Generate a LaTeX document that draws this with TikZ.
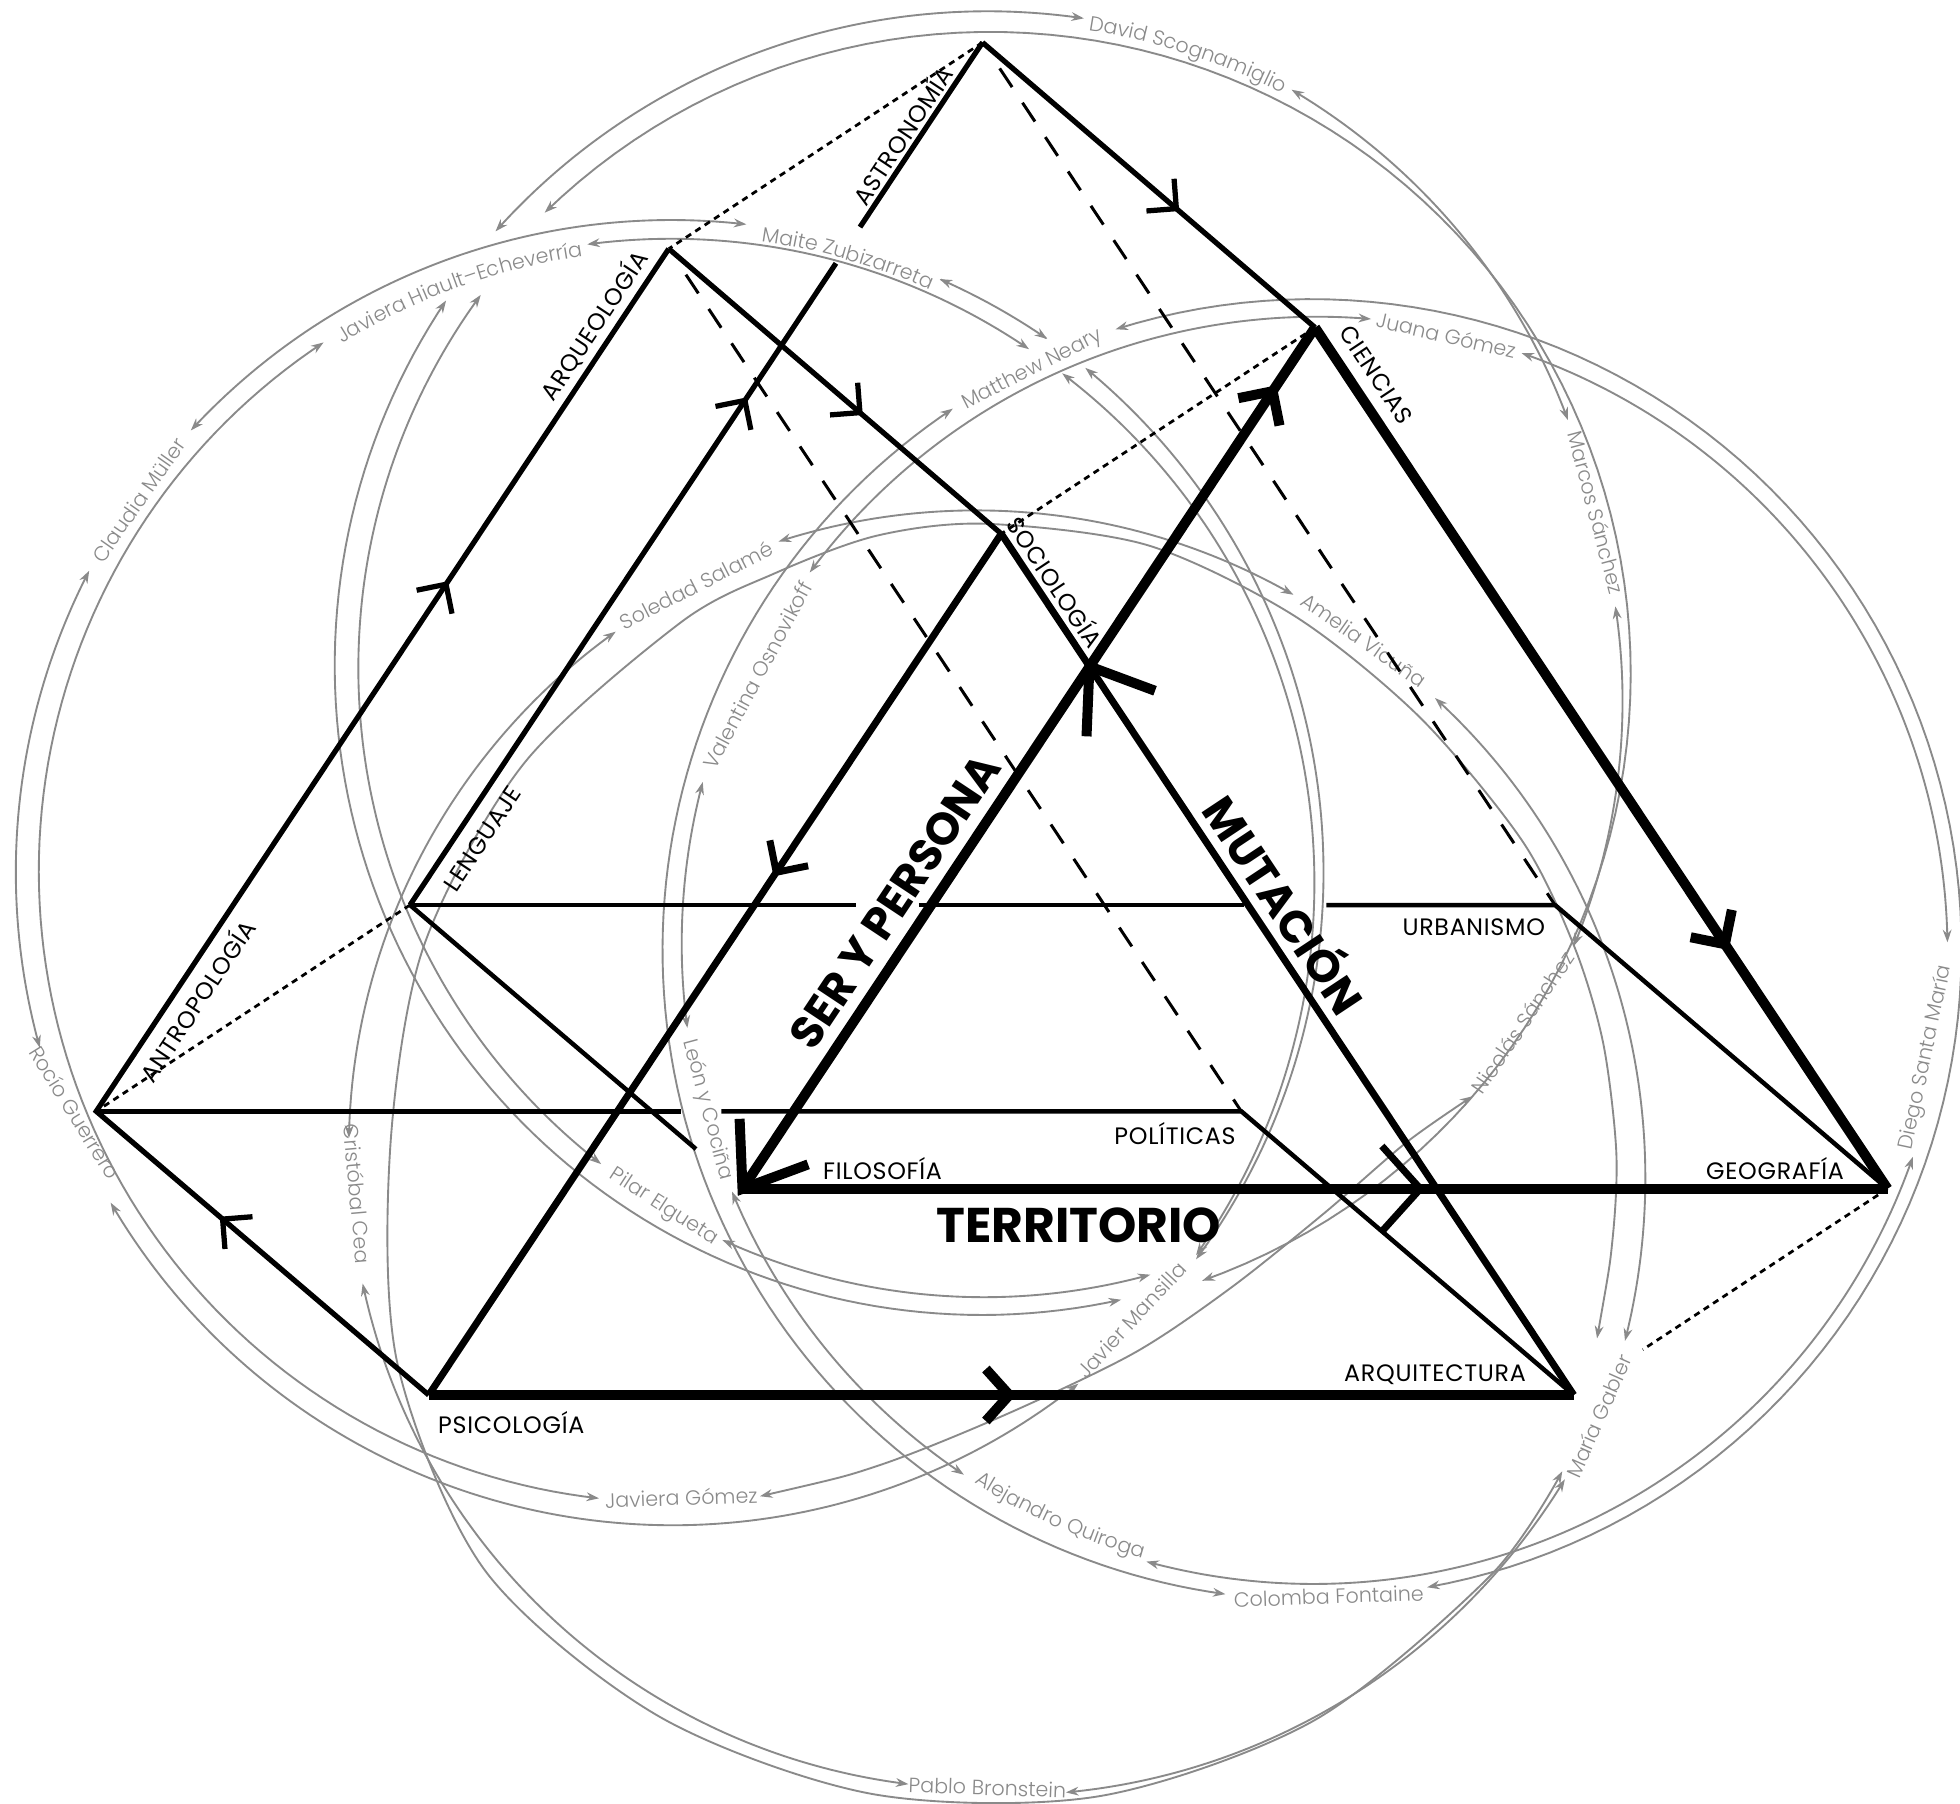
\documentclass[tikz,border=0pt]{standalone}
\usepackage{fontspec}
\setmainfont{Poppins}
\newfontfamily\nmfont{Poppins Light}
\usetikzlibrary{calc,arrows.meta,decorations.text}
\definecolor{gr}{HTML}{8A8A8A}
\tikzset{
  garc/.style={draw=gr,line width=1.5pt,>={Stealth[length=10pt,width=7pt]}},
  nm/.style={text=gr,font=\nmfont\fontsize{16.5}{16.5}\selectfont,inner sep=0pt},
  lab/.style={font=\fontsize{19}{19}\selectfont\addfontfeatures{LetterSpace=3},inner sep=0pt},
  bigl/.style={font=\fontsize{36}{36}\selectfont\bfseries,inner sep=0pt},
  thinl/.style={line width=3.6pt},
  medl/.style={line width=4.2pt},
  semil/.style={line width=5.6pt},
  thickl/.style={line width=8pt},
  dashl/.style={line width=2.4pt,dash pattern=on 18pt off 15pt},
  dotl/.style={line width=2.2pt,dash pattern=on 5pt off 4pt},
}
% ring arc: [arrows]{cx}{cy}{t1}{r1}{t2}{r2}
\newcommand\rarc[7][<->]{\draw[garc,#1] plot[domain=#4:#6,samples=100,variable=\t]
  ({#2+(#5+(#7-(#5))*(\t-(#4))/((#6)-(#4)))*cos(\t)},{#3+(#5+(#7-(#5))*(\t-(#4))/((#6)-(#4)))*sin(\t)});}
% curved name: {cx}{cy}{r}{t1}{t2}{text}
\newcommand\cname[6]{\path[decorate,decoration={text along path,text align=center,text color=gr,
  text={|\nmfont\fontsize{16.5}{16.5}\selectfont|#6}}] plot[domain=#4:#5,samples=60,variable=\t] ({#1+#3*cos(\t)},{#2+#3*sin(\t)});}
% chevron: [style]{A}{B}{pos}{arm}{half angle}, pointing towards B
\newcommand\chev[6][]{%
  \pgfmathsetmacro\chA{180-#6}\pgfmathsetmacro\chB{180+#6}%
  \coordinate (chP) at ($(#2)!#4!(#3)$);
  \draw[#1] ($(chP)!#5!\chA:(#3)$) -- (chP) -- ($(chP)!#5!\chB:(#3)$);}
\begin{document}
\begin{tikzpicture}[x=1pt,y=-1pt,line join=miter,line cap=butt]
\useasboundingbox (0,0) rectangle (1568,1443);
\fill[white] (0,0) rectangle (1568,1443);
\clip (0,0) rectangle (1568,1443);
% ---------- vertices
\coordinate (AST) at (786,34);   \coordinate (LEN) at (328,724);  \coordinate (URB) at (1244,724);
\coordinate (ARQ) at (535,199);  \coordinate (ANT) at (77,889);   \coordinate (POL) at (993,889);
\coordinate (CIE) at (1052,262); \coordinate (FIL) at (594,951);  \coordinate (GEO) at (1510,951);
\coordinate (SOC) at (801,427);  \coordinate (PSI) at (343,1116); \coordinate (ARQT) at (1259,1116);
\coordinate (FILx) at ($(CIE)!1.25!(FIL)$);
% ---------- grey rings
% ring A
\rarc{790}{537}{-138.2}{528}{-81.6}{528}
\rarc{790}{537}{-62.4}{525}{-23.4}{506}
\rarc{790}{537}{-134}{510}{70.6}{517}
\rarc{790}{537}{-5.9}{505}{25.1}{518}
\rarc{790}{537}{74.9}{500}{115}{502}
\rarc{790}{537}{78}{514}{214.4}{525}
\rarc{790}{537}{128.1}{501}{216.6}{505}
\draw[garc,<->] plot[smooth] coordinates {(608,1197) (704,1172) (806,1131) (908,1082) (985,1030) (1060,970) (1125,914) (1178,877)};
% ring K1
\rarc{537}{699}{-137.3}{523}{-83.4}{523}
\rarc{537}{699}{-65.7}{522}{-54.9}{523}
\rarc{537}{699}{-97.6}{508}{-55.7}{508}
\rarc{537}{699}{236.8}{508}{96.6}{503}
\rarc{537}{699}{207.5}{525}{164.6}{524}
\rarc{537}{699}{149.6}{520}{51.4}{522}
\rarc{537}{699}{-50.7}{523}{36.3}{521}
\rarc{537}{699}{-52}{508}{36.0}{519}
% ring K2
\rarc{1050}{760}{-70.7}{506}{-0.7}{508}
\rarc{1050}{760}{19.0}{508}{105.2}{507}
\rarc{1050}{760}{123.6}{504}{157.4}{503}
\rarc{1050}{760}{172.9}{504}{195.4}{506}
\rarc{1050}{760}{216.9}{503}{275.3}{507}
\rarc{1050}{760}{-107.6}{521}{79.8}{518}
\rarc{1050}{760}{97.7}{520}{236.4}{520}
% ring K3
\rarc{788}{921}{-108.7}{515}{-61.0}{509}
\rarc{788}{921}{-45.2}{511}{16.5}{534}
\rarc{788}{921}{29.5}{533}{82.8}{517}
\rarc{788}{921}{96.9}{510}{168}{509}
\rarc{788}{921}{181.2}{509}{234.6}{510}
\draw[garc,<->] plot[smooth] coordinates {(1277.6,1070.7) (1290,991.6) (1293,921) (1282.4,833.8) (1259.3,756.9) (1218,673) (1136,574) (1036,493) (917.9,436.1) (788,419) (701.2,428.6) (619.7,458.7) (544,498.4) (418.8,611.2) (338.8,757.5) (312,921) (318.2,1092) (388.1,1256.5) (527,1373) (697.4,1435.1) (879,1437) (1051,1376.5) (1192.4,1260.4) (1249.8,1177)};
% ---------- names
\cname{790}{537}{519}{-88}{-56}{David Scognamiglio}
\cname{537}{699}{511}{-90}{-58}{Maite Zubizarreta}
\cname{537}{699}{499}{-128}{-92}{Javiera Hiault–Echeverría}
\cname{1050}{760}{505}{132}{96}{Alejandro Quiroga}
\node[nm,rotate=55] (nCM) at (111,400) {Claudia Müller};
\node[nm,rotate=-58] (nRG) at (60,890) {Rocío Guerrero};
\node[nm,rotate=-85] (nCC) at (286,955) {Cristóbal Cea};
\node[nm,rotate=-33] (nPE) at (531,966) {Pilar Elgueta};
\node[nm,rotate=2] (nJG) at (545,1198) {Javiera Gómez};
\node[nm,rotate=-2] (nPB) at (790,1430) {Pablo Bronstein};
\node[nm,rotate=2] (nCF) at (1063,1277) {Colomba Fontaine};
\node[nm,rotate=66] (nMG) at (1279,1133) {María Gabler};
\node[nm,rotate=78] (nDSM) at (1541,846) {Diego Santa María};
\node[nm,rotate=47] (nJM) at (905,1056) {Javier Mansilla};
\node[nm,rotate=56] (nNS) at (1218,818) {Nicolás Sánchez};
\node[nm,rotate=-35] (nAV) at (1091,512) {Amelia Vicuña};
\node[nm,rotate=-75] (nMS) at (1277,410) {Marcos Sánchez};
\node[nm,rotate=-13] (nJuG) at (1157,268) {Juana Gómez};
\node[nm,rotate=27] (nMN) at (826,296) {Matthew Neary};
\node[nm,rotate=27] (nSS) at (557,468) {Soledad Salamé};
\node[nm,rotate=62] (nVO) at (606,540) {Valentina Osnovikoff};
\node[nm,rotate=-75] (nLC) at (566,888) {León y Cociña};
% ---------- black structure
\draw[dotl] (AST) -- (ARQ);
\draw[dotl] (CIE) -- (SOC);
\draw[dotl] (LEN) -- (ANT);
\draw[dotl] (GEO) -- ($(GEO)!0.78!(ARQT)$);
\draw[dashl] ($(AST)!0.03!(URB)$) -- (URB);
\draw[dashl] ($(ARQ)!0.03!(POL)$) -- (POL);
\draw[medl] (AST) -- ($(AST)!0.214!(LEN)$);
\draw[medl] ($(AST)!0.256!(LEN)$) -- (LEN);
\draw[medl] (AST) -- (CIE);
\draw[medl] (ARQ) -- (SOC);
\draw[medl] (ARQ) -- (ANT) -- (PSI);
\draw[thinl] (LEN) -- (685,724);
\draw[thinl] (735,724) -- (995,724);
\draw[thinl] (1061,724) -- (URB) -- (GEO);
\draw[thinl] (ANT) -- (545,889);
\draw[thinl] (577,889) -- (POL) -- (ARQT);
\draw[thinl] (LEN) -- ($(LEN)!0.86!(FIL)$);
\draw[semil] (SOC) -- (PSI);
\draw[semil] (SOC) -- (ARQT);
\draw[thickl] (CIE) -- (GEO);
\draw[thickl] (FIL) -- (CIE);
\draw[thickl] (FIL) -- (GEO);
\draw[thickl] (PSI) -- (ARQT);
% chevrons
\chev[medl]{AST}{CIE}{0.583}{24pt}{45}
\chev[medl]{ARQ}{SOC}{0.575}{24pt}{45}
\chev[medl]{LEN}{AST}{0.585}{24pt}{45}
\chev[medl]{ANT}{ARQ}{0.611}{24pt}{45}
\chev[medl]{PSI}{ANT}{0.62}{24pt}{45}
\chev[semil]{SOC}{PSI}{0.393}{26pt}{45}
\chev[thickl]{FIL}{CIE}{0.926}{28pt}{45}
\chev[thickl]{CIE}{GEO}{0.716}{28pt}{45}
\chev[thickl]{PSI}{ARQT}{0.507}{28pt}{48}
\chev[thickl]{ARQT}{SOC}{0.846}{56pt}{36}
\chev[thickl]{CIE}{FILx}{0.8}{56pt}{36}
\chev[semil]{FIL}{GEO}{0.592}{46pt}{48}
% ---------- labels
\node[lab,rotate=56.4] (lAST) at (721,108) {ASTRONOMÍA};
\node[lab,rotate=56.4] (lARQ) at (475,260) {ARQUEOLOGÍA};
\node[lab,rotate=56.4] (lANT) at (157,800) {ANTROPOLOGÍA};
\node[lab,rotate=56.4] (lLEN) at (386,671) {LENGUAJE};
\node[lab,rotate=-56.4] (lSOC) at (845,465) {SOCIOLOGÍA};
\node[lab,rotate=-56.4] (lCIE) at (1101,300) {CIENCIAS};
\node[lab] (lFIL) at (706,935) {FILOSOFÍA};
\node[lab] (lPOL) at (940,907) {POLÍTICAS};
\node[lab] (lURB) at (1179,742) {URBANISMO};
\node[lab] (lGEO) at (1420,935) {GEOGRAFÍA};
\node[lab] (lARQT) at (1148,1100) {ARQUITECTURA};
\node[lab] (lPSI) at (409,1138) {PSICOLOGÍA};
\node[bigl,rotate=56.4] (tSER) at (716,721) {SER Y PERSONA};
\node[bigl,rotate=-56.4] (tMUT) at (1030,722) {MUTACIÓN};
\node[bigl,font=\fontsize{39}{39}\selectfont\bfseries] (tTER) at (863,980) {TERRITORIO};
\end{tikzpicture}
\end{document}
